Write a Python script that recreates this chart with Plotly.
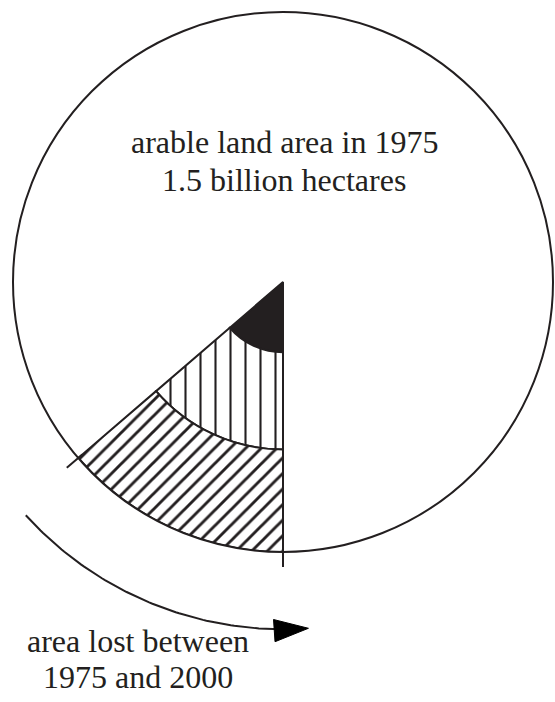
import numpy as np
import plotly.graph_objects as go

# ---- data ----
total_label = ["arable land area in 1975", "1.5 billion hectares"]
lost_label = ["area lost between", "1975 and 2000"]
lost_share = 0.137            # share of 1975 arable land lost (fraction of the circle)
ring_bounds = [0.0, 0.26, 0.62, 1.0]   # radial bands of the lost wedge
ring_patterns = ["", "|", "/"]
ring_colors = ["#231f20", "white", "white"]

INK = "#231f20"
W, H = 555, 702
CX, CY, RPX = 283, 282, 270   # circle centre / radius in figure pixels
LW = 2

wedge_end = 270.0
wedge_width = lost_share * 360.0
wedge_start = wedge_end - wedge_width
wedge_mid = (wedge_start + wedge_end) / 2

fig = go.Figure()

for i in range(3):
    base = ring_bounds[i]
    size = ring_bounds[i + 1] - ring_bounds[i]
    pat = ring_patterns[i]
    marker = dict(color=ring_colors[i], line=dict(color=INK, width=LW))
    if pat:
        marker["pattern"] = dict(shape=pat, fgcolor=INK, bgcolor="white",
                                 size=15 if pat == "|" else 11,
                                 solidity=0.14 if pat == "|" else 0.26,
                                 fillmode="replace")
    fig.add_trace(go.Barpolar(r=[size], base=[base], theta=[wedge_mid],
                              width=[wedge_width], marker=marker,
                              hoverinfo="skip", subplot="polar"))


def pol2xy(r, th):
    t = np.radians(np.asarray(th, dtype=float))
    r = np.asarray(r, dtype=float)
    return r * np.cos(t), r * np.sin(t)


# radial edges extended slightly beyond the circle (cartesian overlay, same scale)
for ang in [wedge_start, wedge_end]:
    x, y = pol2xy([0.98, 1.056], [ang, ang])
    fig.add_trace(go.Scatter(x=x, y=y, mode="lines", line=dict(color=INK, width=LW),
                             hoverinfo="skip"))

# curved arrow
arc_theta = np.linspace(222.2, 274.2, 90)
ax_, ay_ = pol2xy(np.full(arc_theta.shape, 1.286), arc_theta)
fig.add_trace(go.Scatter(x=ax_[:-4], y=ay_[:-4], mode="lines",
                         line=dict(color=INK, width=2), hoverinfo="skip"))
fig.add_trace(go.Scatter(x=ax_[-2:], y=ay_[-2:], mode="markers",
                         marker=dict(symbol="arrow", size=[0, 36], angleref="previous",
                                     color="#000000", opacity=1,
                                     line=dict(width=1, color="#000000")),
                         hoverinfo="skip"))

fig.update_layout(
    width=W, height=H,
    margin=dict(l=0, r=0, t=0, b=0),
    paper_bgcolor="white",
    plot_bgcolor="rgba(0,0,0,0)",
    showlegend=False,
    xaxis=dict(range=[-CX / RPX, (W - CX) / RPX], visible=False, domain=[0, 1]),
    yaxis=dict(range=[(CY - H) / RPX, CY / RPX], visible=False, domain=[0, 1]),
    polar=dict(
        domain=dict(x=[(CX - RPX) / W, (CX + RPX) / W],
                    y=[1 - (CY + RPX) / H, 1 - (CY - RPX) / H]),
        bgcolor="rgba(0,0,0,0)",
        radialaxis=dict(range=[0, 1], visible=False, showgrid=False),
        angularaxis=dict(showline=True, linecolor=INK, linewidth=LW,
                         showgrid=False, ticks="", showticklabels=False),
    ),
)

font = dict(family="Liberation Serif", size=32, color=INK)
for txt, cx, cy in [(total_label[0], 284, 142), (total_label[1], 284, 180),
                    (lost_label[0], 138, 641), (lost_label[1], 138, 677)]:
    fig.add_annotation(text=txt, x=cx / W, y=1 - cy / H, xref="paper", yref="paper",
                       showarrow=False, xanchor="center", yanchor="middle", font=font)

fig.write_html("out.html",
               config={"displayModeBar": False},
               post_script="document.body.style.margin='0px';"
                           "document.body.style.overflow='hidden';")
